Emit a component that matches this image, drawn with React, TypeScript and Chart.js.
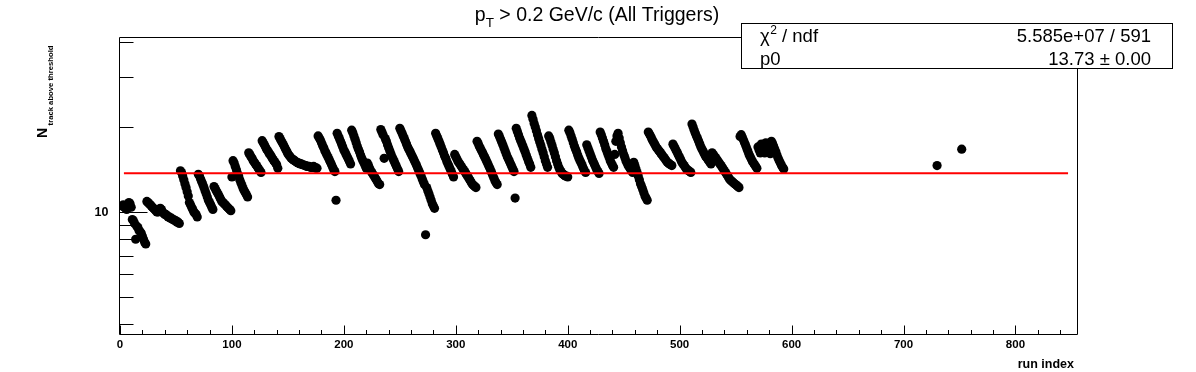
import React, { useEffect, useRef } from 'react';
import { Chart, registerables } from 'chart.js';

Chart.register(...registerables);

// ---- Data ----
const runSegmentStart: number[] = [
  2, 11, 24, 54, 70, 84, 100, 115, 127, 142, 177, 194, 207, 221, 233, 250, 282, 299, 319, 338,
  353, 368, 383, 401, 417, 429, 442, 459, 472, 494, 511, 529, 554, 570, 730, 752,
];

const runSegmentValues: number[][] = [
  [10.5, 10.6, 10.4, 10.3, 10.2, 10.6, 10.8, 10.7, 10.4],
  [9.4, 9.3, 9.1, 8.0, 8.9, 8.8, 8.6, 8.5, 8.4, 8.2, 8.0, 7.8, 7.7],
  [10.9, 10.8, 10.7, 10.6, 10.5, 10.4, 10.3, 10.2, 10.1, 10.0, 10.0, 10.2, 10.3, 10.2, 10.0, 9.9, 9.8, 9.8, 9.7, 9.6, 9.6, 9.5, 9.5, 9.4, 9.4, 9.3, 9.3, 9.2, 9.2, 9.1],
  [14.0, 13.8, 13.4, 13.0, 12.6, 12.2, 11.8, 11.4, 10.8, 10.6, 10.4, 10.2, 10.0, 9.9, 9.8, 9.6],
  [13.6, 13.4, 13.1, 12.8, 12.5, 12.2, 11.9, 11.6, 11.3, 11.0, 10.8, 10.6, 10.4, 10.2],
  [12.3, 12.1, 11.9, 11.7, 11.5, 11.3, 11.1, 10.9, 10.8, 10.7, 10.6, 10.5, 10.4, 10.3, 10.2, 10.1],
  [13.3, 15.2, 14.9, 14.5, 14.1, 13.7, 13.4, 13.0, 12.7, 12.4, 12.1, 11.9, 11.7, 11.5, 11.3],
  [16.2, 16.0, 15.7, 15.5, 15.2, 15.0, 14.8, 14.6, 14.4, 14.2, 14.0, 13.8],
  [17.9, 17.6, 17.3, 17.0, 16.7, 16.5, 16.2, 16.0, 15.8, 15.5, 15.3, 15.1, 14.9, 14.7, 14.3],
  [18.5, 18.2, 17.9, 17.6, 17.3, 17.0, 16.7, 16.4, 16.1, 15.9, 15.7, 15.5, 15.4, 15.3, 15.2, 15.1, 15.0, 14.9, 14.9, 14.8, 14.8, 14.7, 14.7, 14.6, 14.6, 14.5, 14.5, 14.5, 14.4, 14.4, 14.4, 14.5, 14.4, 14.3, 14.3],
  [18.6, 18.3, 18.0, 17.6, 17.2, 16.9, 16.5, 16.2, 15.9, 15.6, 15.3, 15.0, 14.7, 14.4, 14.1, 13.9, 11.0],
  [19.0, 18.6, 18.2, 17.8, 17.4, 17.0, 16.6, 16.3, 16.0, 15.7, 15.4, 15.1, 14.8],
  [19.5, 19.1, 18.6, 18.1, 17.6, 17.1, 16.7, 16.3, 15.9, 15.5, 15.2, 14.9, 14.6, 14.3],
  [14.9, 14.6, 14.3, 14.0, 13.8, 13.6, 13.4, 13.2, 13.0, 12.8, 12.6, 12.5],
  [19.6, 19.2, 18.8, 15.5, 18.2, 17.8, 17.3, 16.9, 16.5, 16.1, 15.7, 15.4, 15.1, 14.8, 14.5, 14.2, 13.9],
  [19.8, 19.4, 19.0, 18.6, 18.2, 17.8, 17.4, 17.0, 16.7, 16.4, 16.1, 15.8, 15.5, 15.2, 14.9, 14.6, 14.3, 14.0, 13.7, 13.4, 13.1, 12.8, 12.5, 8.3, 12.2, 11.9, 11.6, 11.3, 11.0, 10.7, 10.5, 10.3],
  [19.0, 18.6, 18.2, 17.8, 17.4, 17.0, 16.6, 16.2, 15.8, 15.5, 15.1, 14.8, 14.5, 14.2, 13.9, 13.6, 13.3],
  [16.0, 15.7, 15.4, 15.1, 14.9, 14.7, 14.5, 14.3, 14.1, 13.9, 13.7, 13.5, 13.3, 13.1, 12.9, 12.7, 12.5, 12.4, 12.3, 12.2],
  [17.8, 17.5, 17.1, 16.8, 16.5, 16.2, 15.9, 15.6, 15.3, 15.0, 14.7, 14.4, 14.1, 13.8, 13.5, 13.2, 12.9, 12.7, 12.5],
  [18.9, 18.5, 18.1, 17.7, 17.3, 16.9, 16.5, 16.1, 15.7, 15.4, 15.1, 14.8, 14.5, 14.2, 13.9],
  [11.2, 19.8, 19.3, 18.8, 18.3, 17.9, 17.5, 17.1, 16.7, 16.3, 15.9, 15.5, 15.1, 14.8, 14.4],
  [22.0, 21.3, 20.6, 20.0, 19.4, 18.8, 18.2, 17.7, 17.2, 16.7, 16.2, 15.7, 15.2, 14.8, 14.4],
  [18.6, 18.2, 17.7, 17.2, 16.7, 16.2, 15.7, 15.2, 14.8, 14.4, 14.1, 13.9, 13.7, 13.6, 13.5, 13.4, 13.4, 13.3],
  [19.5, 19.1, 18.6, 18.1, 17.6, 17.1, 16.7, 16.3, 15.9, 15.5, 15.2, 14.9, 14.6, 14.3, 14.0, 13.8],
  [17.3, 16.9, 16.5, 16.1, 15.7, 15.3, 15.0, 14.7, 14.4, 14.1, 13.9, 13.7],
  [19.2, 18.8, 18.3, 17.8, 17.3, 16.8, 16.4, 16.0, 15.6, 15.2, 14.9, 14.6, 14.4],
  [16.0, 17.8, 18.6, 19.0, 18.3, 17.6, 17.0, 16.5, 16.0, 15.6, 15.2, 14.9, 14.6, 14.4, 14.2, 14.0, 13.8],
  [15.0, 14.6, 14.2, 13.8, 13.4, 13.0, 12.6, 12.3, 12.0, 11.7, 11.4, 11.2, 11.0],
  [19.2, 18.9, 18.6, 18.2, 17.9, 17.6, 17.3, 17.0, 16.8, 16.6, 16.4, 16.2, 16.0, 15.8, 15.6, 15.4, 15.2, 15.0, 14.9, 14.8, 14.7, 14.6],
  [17.4, 17.1, 16.8, 16.5, 16.2, 15.9, 15.6, 15.3, 15.0, 14.8, 14.6, 14.4, 14.2, 14.1, 14.0, 13.9, 13.8],
  [20.5, 20.0, 19.5, 19.0, 18.6, 18.2, 17.8, 17.4, 17.0, 16.7, 16.4, 16.1, 15.8, 15.6, 15.4, 15.2, 15.0, 14.8],
  [16.2, 16.0, 15.8, 15.6, 15.4, 15.2, 15.0, 14.8, 14.6, 14.4, 14.2, 14.0, 13.8, 13.6, 13.4, 13.2, 13.0, 12.9, 12.8, 12.7, 12.6, 12.5, 12.4, 12.3, 12.2],
  [18.5, 18.8, 18.4, 18.0, 17.6, 17.2, 16.8, 16.4, 16.0, 15.7, 15.4, 15.1, 14.9, 14.7, 14.5, 14.3],
  [17.0, 16.6, 16.2, 17.4, 17.0, 16.6, 16.2, 17.6, 17.3, 16.9, 16.5, 16.1, 17.8, 17.5, 17.1, 16.7, 16.3, 15.9, 15.5, 15.2, 14.9, 14.6, 14.4, 14.2],
  [14.6],
  [16.7],
];

const fitP0 = 13.73;
const fitRange: number[] = [3.5, 847];
const xRange: number[] = [0, 855];
const yRange: number[] = [3.69, 41.4];
const xMajorTicks: number[] = [0, 100, 200, 300, 400, 500, 600, 700, 800];
const xMinorTicks: number[] = [20, 40, 60, 80, 120, 140, 160, 180, 220, 240, 260, 280, 320, 340, 360, 380, 420, 440, 460, 480, 520, 540, 560, 580, 620, 640, 660, 680, 720, 740, 760, 780, 820, 840];
const yMajorTicks: number[] = [10];
const yMinorTicks: number[] = [4, 5, 6, 7, 8, 9, 20, 30, 40];
const statsLabels: string[] = ['χ', 'p0'];
const statsValues: string[] = ['5.585e+07 / 591', '13.73 ± 0.00'];

const FONT = '"Liberation Sans", Arial, Helvetica, sans-serif';

const rootPlugin = {
  id: 'rootDecor',
  afterDraw(chart: any) {
    const ctx: CanvasRenderingContext2D = chart.ctx;
    const xs = chart.scales.x;
    const ys = chart.scales.y;
    const a = chart.chartArea;
    ctx.save();
    ctx.strokeStyle = '#000';
    ctx.fillStyle = '#000';
    ctx.lineWidth = 1;

    // frame
    const L = a.left - 0.5, R = a.right + 0.5, T = a.top - 0.5, B = a.bottom + 0.5;
    ctx.beginPath();
    ctx.moveTo(L, T); ctx.lineTo(R, T); ctx.lineTo(R, B); ctx.lineTo(L, B); ctx.closePath();
    ctx.stroke();

    // x ticks
    ctx.beginPath();
    xMajorTicks.forEach((v) => {
      const px = Math.round(xs.getPixelForValue(v)) + 0.5;
      ctx.moveTo(px, B); ctx.lineTo(px, B - 9);
    });
    xMinorTicks.forEach((v) => {
      const px = Math.round(xs.getPixelForValue(v)) + 0.5;
      ctx.moveTo(px, B); ctx.lineTo(px, B - 4.5);
    });
    // y ticks
    yMajorTicks.forEach((v) => {
      const py = Math.round(ys.getPixelForValue(v)) + 0.5;
      ctx.moveTo(L, py); ctx.lineTo(L + 28, py);
    });
    yMinorTicks.forEach((v) => {
      const py = Math.round(ys.getPixelForValue(v)) + 0.5;
      ctx.moveTo(L, py); ctx.lineTo(L + 14, py);
    });
    ctx.stroke();

    // x tick labels
    ctx.font = `bold 11.5px ${FONT}`;
    ctx.textAlign = 'center';
    ctx.textBaseline = 'alphabetic';
    xMajorTicks.forEach((v) => {
      ctx.fillText(String(v), xs.getPixelForValue(v), 348);
    });
    // y tick labels
    ctx.font = `bold 12.5px ${FONT}`;
    ctx.textAlign = 'right';
    yMajorTicks.forEach((v) => {
      ctx.fillText(String(v), 108.5, ys.getPixelForValue(v) + 4.5);
    });

    // x axis title
    ctx.font = `bold 12.5px ${FONT}`;
    ctx.textAlign = 'right';
    ctx.fillText('run index', 1074, 368);

    // y axis title (rotated)
    ctx.save();
    ctx.translate(47, 138);
    ctx.rotate(-Math.PI / 2);
    ctx.textAlign = 'left';
    ctx.font = `bold 14px ${FONT}`;
    ctx.fillText('N', 0, 0);
    const nW = ctx.measureText('N').width;
    ctx.font = `bold 7.7px ${FONT}`;
    ctx.fillText('track above threshold', nW + 2.5, 6);
    ctx.restore();

    // title
    ctx.textAlign = 'left';
    const mainFont = `19.5px ${FONT}`;
    const subFont = `13.5px ${FONT}`;
    const rest = ' > 0.2 GeV/c (All Triggers)';
    ctx.font = mainFont;
    const pW = ctx.measureText('p').width;
    const restW = ctx.measureText(rest).width;
    ctx.font = subFont;
    const tW = ctx.measureText('T').width;
    const total = pW + tW + restW;
    let tx = 597 - total / 2;
    ctx.font = mainFont;
    ctx.fillText('p', tx, 21);
    tx += pW;
    ctx.font = subFont;
    ctx.fillText('T', tx, 27);
    tx += tW;
    ctx.font = mainFont;
    ctx.fillText(rest, tx, 21);

    // stats box
    ctx.fillStyle = '#fff';
    ctx.fillRect(742, 24, 431, 44);
    ctx.strokeStyle = '#000';
    ctx.strokeRect(741.5, 23.5, 431, 45);
    ctx.fillStyle = '#000';
    const statFont = `18.5px ${FONT}`;
    ctx.font = statFont;
    ctx.textAlign = 'left';
    ctx.fillText(statsLabels[0], 760, 41.5);
    let sx = 760 + ctx.measureText(statsLabels[0]).width + 0.5;
    ctx.font = `12px ${FONT}`;
    ctx.fillText('2', sx, 34);
    sx += ctx.measureText('2').width;
    ctx.font = statFont;
    ctx.fillText(' / ndf', sx, 41.5);
    ctx.fillText(statsLabels[1], 760, 65);
    ctx.textAlign = 'right';
    ctx.fillText(statsValues[0], 1151, 41.5);
    ctx.fillText(statsValues[1], 1151, 65);

    ctx.restore();
  },
};

export default function App() {
  const canvasRef = useRef<HTMLCanvasElement | null>(null);

  useEffect(() => {
    const canvas = canvasRef.current;
    if (!canvas) return;
    const points = runSegmentStart.flatMap((s, k) =>
      runSegmentValues[k].map((v, i) => ({ x: s + i, y: v }))
    );
    const fitLine = fitRange.map((x) => ({ x, y: fitP0 }));

    const chart = new Chart(canvas, {
      type: 'scatter',
      data: {
        datasets: [
          {
            label: 'fit',
            data: fitLine,
            showLine: true,
            borderColor: '#ff0000',
            borderWidth: 2,
            pointRadius: 0,
            order: 0,
          } as any,
          {
            label: 'N track',
            data: points,
            pointRadius: 4.6,
            pointBackgroundColor: '#000',
            pointBorderColor: '#000',
            pointBorderWidth: 0,
            showLine: false,
            order: 1,
          } as any,
        ],
      },
      options: {
        animation: false,
        responsive: false,
        events: [],
        layout: { padding: { left: 120, top: 38, right: 119, bottom: 38 } },
        plugins: {
          legend: { display: false },
          tooltip: { enabled: false },
          title: { display: false },
        },
        scales: {
          x: { type: 'linear', min: xRange[0], max: xRange[1], display: false },
          y: { type: 'logarithmic', min: yRange[0], max: yRange[1], display: false },
        },
      },
      plugins: [rootPlugin],
    });
    return () => chart.destroy();
  }, []);

  return (
    <div style={{ position: 'fixed', left: 0, top: 0, width: 1196, height: 372, background: '#fff' }}>
      <canvas ref={canvasRef} width={1196} height={372} style={{ display: 'block' }} />
    </div>
  );
}
